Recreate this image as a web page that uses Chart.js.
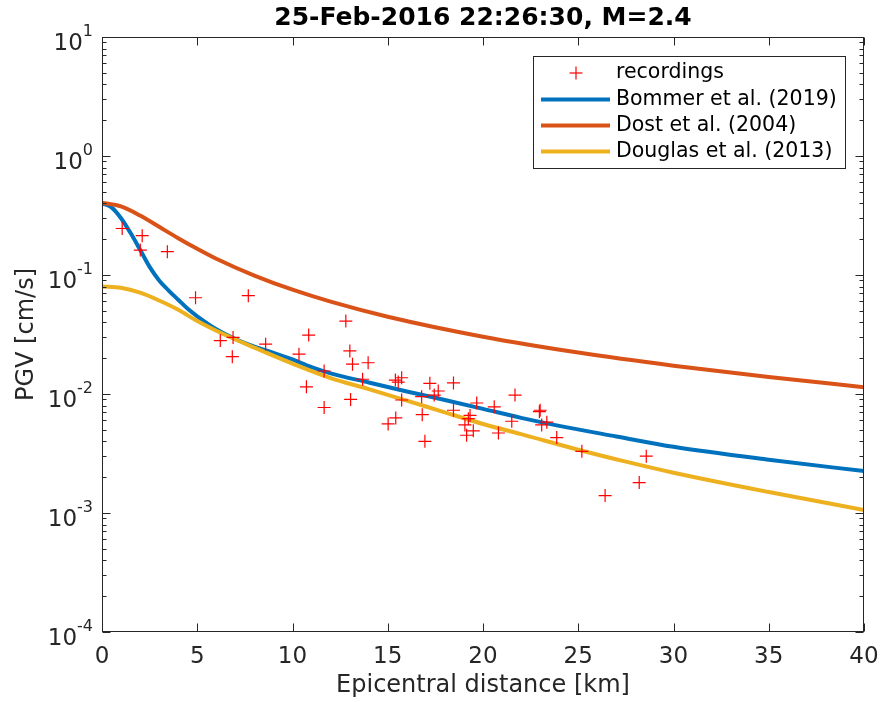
<!DOCTYPE html>
<html>
<head>
<meta charset="utf-8">
<script src="https://cdn.jsdelivr.net/npm/chart.js@4.4.1/dist/chart.umd.min.js"></script>
<style>
  html, body { margin: 0; padding: 0; background: #ffffff; }
  #wrap { width: 880px; height: 702px; }
</style>
</head>
<body>
<div id="wrap"><canvas id="c" width="880" height="702"></canvas></div>
<script>
// ---------- data ----------
const titleText = '25-Feb-2016 22:26:30, M=2.4';
const xLabel = 'Epicentral distance [km]';
const yLabel = 'PGV [cm/s]';
const xTickValues = [0, 5, 10, 15, 20, 25, 30, 35, 40];
const yTickExponents = [1, 0, -1, -2, -3, -4];

const recDist = [1.06, 2.11, 2.01, 3.43, 4.91, 7.68, 6.21, 6.88, 6.84, 8.59,
  12.80, 10.85, 10.34, 13.01, 13.15, 13.97, 11.66, 13.68, 10.73, 13.05,
  11.66, 15.40, 15.73, 15.55, 15.73, 15.02, 15.42, 16.95, 16.81, 17.21,
  17.65, 17.44, 16.78, 18.45, 18.45, 19.67, 19.32, 19.05, 19.49, 19.14,
  20.59, 20.81, 21.68, 21.51, 23.00, 22.96, 23.35, 23.08, 23.87, 25.19,
  28.57, 28.20, 26.41, 19.23];
const recPGV = [0.246, 0.214, 0.162, 0.157, 0.0644, 0.0670, 0.0281, 0.0299, 0.0206, 0.0262,
  0.0410, 0.0313, 0.0216, 0.0230, 0.0178, 0.0183, 0.0156, 0.0133, 0.0115, 0.0090,
  0.0077, 0.0131, 0.0137, 0.0126, 0.0089, 0.0056, 0.0063, 0.0040, 0.0067, 0.0123,
  0.0106, 0.0098, 0.0095, 0.0124, 0.0073, 0.0084, 0.0066, 0.0055, 0.0049, 0.0045,
  0.0078, 0.0047, 0.0098, 0.0059, 0.0073, 0.0071, 0.0058, 0.0055, 0.0043, 0.0033,
  0.0030, 0.0018, 0.0014, 0.0062];

const bommerDist = [0, 0.5, 1, 1.5, 2, 2.5, 3, 3.5, 4, 4.5, 5, 6, 7, 8, 9, 10, 11, 12, 14, 16, 18, 20, 22, 24, 27, 30, 35, 40];
const bommerPGV  = [0.40, 0.37, 0.30, 0.225, 0.163, 0.117, 0.090, 0.074, 0.062, 0.052, 0.045, 0.035, 0.029, 0.025, 0.0222, 0.0195, 0.0168, 0.0149, 0.0125, 0.0105, 0.0089, 0.0075, 0.0063, 0.0054, 0.0044, 0.0036, 0.0028, 0.00225];

const dostDist = [0, 1, 2, 3, 4, 5, 6, 8, 10, 12, 15, 20, 25, 30, 35, 40];
const dostPGV  = [0.405, 0.377, 0.316, 0.254, 0.204, 0.166, 0.137, 0.0989, 0.0752, 0.0597, 0.0446, 0.0303, 0.0223, 0.0173, 0.0139, 0.0114];

const douglasDist = [0, 1, 2, 3, 4, 5, 6, 8, 10, 12, 14, 16, 18, 20, 22, 25, 27.5, 30, 35, 40];
const douglasPGV  = [0.080, 0.078, 0.071, 0.061, 0.051, 0.041, 0.034, 0.0245, 0.0180, 0.0136, 0.0110, 0.0088, 0.0070, 0.0056, 0.0046, 0.0034, 0.0027, 0.00218, 0.00150, 0.00106];

const seriesNames = ['recordings', 'Bommer et al. (2019)', 'Dost et al. (2004)', 'Douglas et al. (2013)'];
const seriesColors = ['#ff0000', '#0072BD', '#D95319', '#EDB120'];

// ---------- build ----------
const pts = (xs, ys) => xs.map((v, i) => ({x: v, y: ys[i]}));
const FONT = '"DejaVu Sans", sans-serif';
const AX = '#262626';

const axesPlugin = {
  id: 'matlabAxes',
  afterDraw(chart) {
    const {ctx, chartArea: a, scales: {x, y}} = chart;
    ctx.save();
    const L = Math.round(a.left) + 0.5, R = Math.round(a.right) - 0.5;
    const T = Math.round(a.top) + 0.5, B = Math.round(a.bottom) - 0.5;
    ctx.strokeStyle = AX; ctx.lineWidth = 1;
    const seg = (x1, y1, x2, y2) => { ctx.beginPath(); ctx.moveTo(x1, y1); ctx.lineTo(x2, y2); ctx.stroke(); };
    // box
    ctx.strokeRect(L, T, R - L, B - T);
    // x ticks
    xTickValues.forEach(v => {
      const px = Math.round(x.getPixelForValue(v)) + 0.5;
      seg(px, B, px, B - 8); seg(px, T, px, T + 8);
    });
    // y major + minor ticks
    yTickExponents.forEach(e => {
      const py = Math.round(y.getPixelForValue(Math.pow(10, e))) + 0.5;
      seg(L, py, L + 8, py); seg(R, py, R - 8, py);
      if (e > -4) {
        for (let k = 2; k <= 9; k++) {
          const my = Math.round(y.getPixelForValue(k * Math.pow(10, e - 1))) + 0.5;
          seg(L, my, L + 4, my); seg(R, my, R - 4, my);
        }
      }
    });
    // x tick labels
    ctx.fillStyle = AX;
    ctx.font = '23px ' + FONT;
    ctx.textAlign = 'center'; ctx.textBaseline = 'middle';
    xTickValues.forEach(v => ctx.fillText(String(v), x.getPixelForValue(v), 657));
    // y tick labels 10^e
    yTickExponents.forEach(e => {
      const py = y.getPixelForValue(Math.pow(10, e));
      ctx.font = '16px ' + FONT;
      const ew = ctx.measureText(String(e)).width;
      const right = a.left - 9;
      ctx.textAlign = 'left'; ctx.textBaseline = 'middle';
      ctx.fillText(String(e), right - ew, py - 5);
      ctx.font = '23px ' + FONT;
      ctx.textAlign = 'right';
      ctx.fillText('10', right - ew, py + 7);
    });
    // axis labels
    ctx.font = '24px ' + FONT;
    ctx.textAlign = 'center'; ctx.textBaseline = 'middle';
    ctx.fillText(xLabel, (a.left + a.right) / 2, 686);
    ctx.save();
    ctx.translate(27, (a.top + a.bottom) / 2);
    ctx.rotate(-Math.PI / 2);
    ctx.fillText(yLabel, 0, 0);
    ctx.restore();
    // title
    ctx.fillStyle = '#000000';
    ctx.font = 'bold 25px ' + FONT;
    ctx.fillText(titleText, (a.left + a.right) / 2, 18);
    // legend
    const lx = 533.5, ly = 56.5, lw = 312, lh = 112;
    ctx.fillStyle = '#ffffff';
    ctx.fillRect(lx, ly, lw, lh);
    ctx.strokeStyle = AX; ctx.lineWidth = 1;
    ctx.strokeRect(lx, ly, lw, lh);
    const rowY = [73, 99.5, 125.5, 151.5];
    ctx.font = '20.5px ' + FONT;
    ctx.textAlign = 'left'; ctx.textBaseline = 'middle';
    seriesNames.forEach((name, i) => {
      const ry = rowY[i];
      if (i === 0) {
        ctx.strokeStyle = seriesColors[0]; ctx.lineWidth = 1.2;
        seg(576 - 6.5, ry, 576 + 6.5, ry); seg(576, ry - 6.5, 576, ry + 6.5);
      } else {
        ctx.strokeStyle = seriesColors[i]; ctx.lineWidth = 4;
        seg(541, ry, 610, ry);
      }
      ctx.fillStyle = '#000000';
      ctx.fillText(name, 616, ry);
    });
    ctx.restore();
  }
};

const lineDs = (name, color, xs, ys) => ({
  type: 'line', label: name, data: pts(xs, ys),
  borderColor: color, backgroundColor: color, borderWidth: 4,
  pointRadius: 0, cubicInterpolationMode: 'monotone', fill: false
});

new Chart(document.getElementById('c'), {
  data: {
    datasets: [
      { type: 'scatter', label: seriesNames[0], data: pts(recDist, recPGV),
        pointStyle: 'cross', pointRadius: 6.5, pointBorderWidth: 1.2,
        borderColor: seriesColors[0], backgroundColor: seriesColors[0], order: 0 },
      Object.assign(lineDs(seriesNames[1], seriesColors[1], bommerDist, bommerPGV), {order: 3}),
      Object.assign(lineDs(seriesNames[2], seriesColors[2], dostDist, dostPGV), {order: 2}),
      Object.assign(lineDs(seriesNames[3], seriesColors[3], douglasDist, douglasPGV), {order: 1})
    ]
  },
  options: {
    responsive: false, animation: false, devicePixelRatio: 1,
    layout: { padding: { left: 102, top: 37, right: 16, bottom: 70 } },
    plugins: { legend: { display: false }, tooltip: { enabled: false }, title: { display: false } },
    scales: {
      x: { type: 'linear', min: 0, max: 40, display: false },
      y: { type: 'logarithmic', min: 1e-4, max: 10, display: false }
    }
  },
  plugins: [axesPlugin]
});
</script>
</body>
</html>
